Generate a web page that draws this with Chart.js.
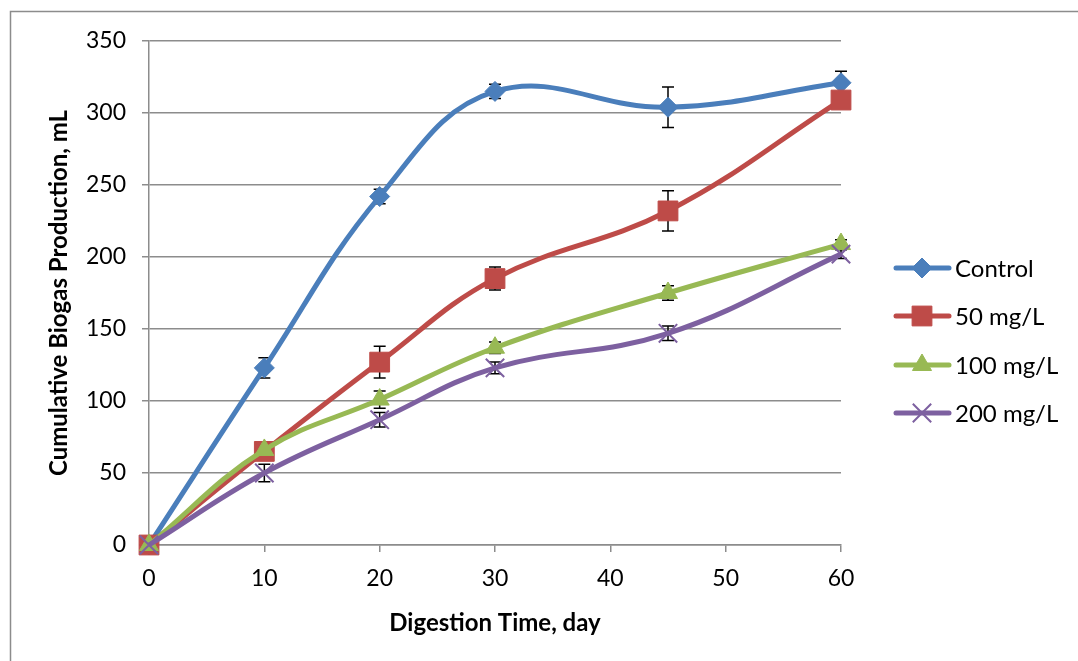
<!DOCTYPE html>
<html>
<head>
<meta charset="utf-8">
<title>Cumulative biogas production</title>
<script src="https://cdn.jsdelivr.net/npm/chart.js@4/dist/chart.umd.min.js"></script>
<style>
    body { margin: 0; background: #fff; }
    #myChart { display: block; }
</style>
</head>
<body>
<canvas id="myChart" width="1078" height="661"></canvas>
<script>
// digestion days and cumulative biogas (mL) per dose
let jours = [0, 10, 20, 30, 45, 60];

let series_noms = ["Control", "50 mg/L", "100 mg/L", "200 mg/L"];

let control = [0, 123, 242, 315, 304, 321];
let dose_50 = [0, 65, 127, 185, 232, 309];
let dose_100 = [0, 66, 101, 137, 175, 209];
let dose_200 = [0, 50, 87, 123, 147, 202];

// standard deviations (error bars)
let err_control = [0, 7, 5, 5, 14, 8];
let err_50 = [0, 3, 11, 8, 14, 3];
let err_100 = [0, 2, 6, 4, 5, 3];
let err_200 = [0, 6, 5, 4, 5, 3];

let y_ticks = [0, 50, 100, 150, 200, 250, 300, 350];

let couleurs = ['#4a7ebb', '#be4b48', '#98b954', '#7d60a0'];
let marqueurs = ['rectRot', 'rect', 'triangle', 'crossRot'];
let tailles = [10, 14, 11, 13];

let valeurs = [control, dose_50, dose_100, dose_200];
let erreurs = [err_control, err_50, err_100, err_200];

function points(y) {
    return jours.map((x, i) => {
        return {x: x, y: y[i]};
    });
}

// frame around the whole figure
const cadre = {
    id: 'cadre',
    beforeDraw(chart) {
        const ctx = chart.ctx;
        ctx.save();
        ctx.fillStyle = '#fff';
        ctx.fillRect(0, 0, chart.width, chart.height);
        ctx.strokeStyle = '#8c8c8c';
        ctx.lineWidth = 1.5;
        ctx.beginPath();
        ctx.moveTo(10.5, chart.height + 5);
        ctx.lineTo(10.5, 11.5);
        ctx.lineTo(chart.width + 5, 11.5);
        ctx.stroke();
        ctx.restore();
    }
};

const barres_erreur = {
    id: 'barres_erreur',
    beforeDatasetsDraw(chart) {
        const ctx = chart.ctx;
        const sx = chart.scales.x;
        const sy = chart.scales.y;
        ctx.save();
        ctx.strokeStyle = '#000';
        ctx.lineWidth = 1.5;
        erreurs.forEach((err, s) => {
            jours.forEach((j, i) => {
                if (!err[i]) return;
                let px = sx.getPixelForValue(j);
                let haut = sy.getPixelForValue(valeurs[s][i] + err[i]);
                let bas = sy.getPixelForValue(valeurs[s][i] - err[i]);
                ctx.beginPath();
                ctx.moveTo(px, haut);
                ctx.lineTo(px, bas);
                ctx.moveTo(px - 6, haut);
                ctx.lineTo(px + 6, haut);
                ctx.moveTo(px - 6, bas);
                ctx.lineTo(px + 6, bas);
                ctx.stroke();
            });
        });
        ctx.restore();
    }
};

// legend: line with marker, label on the right
const legende = {
    id: 'legende',
    afterDraw(chart) {
        const ctx = chart.ctx;
        let rangs = [268, 316, 365, 413];
        ctx.save();
        series_noms.forEach((nom, i) => {
            let y = rangs[i];
            ctx.strokeStyle = couleurs[i];
            ctx.lineWidth = 5;
            ctx.lineCap = 'round';
            ctx.beginPath();
            ctx.moveTo(896, y);
            ctx.lineTo(949, y);
            ctx.stroke();
            ctx.lineCap = 'butt';
            ctx.fillStyle = couleurs[i];
            ctx.strokeStyle = couleurs[i];
            ctx.lineWidth = i === 3 ? 2 : 1;
            Chart.helpers.drawPoint(ctx, {
                pointStyle: marqueurs[i],
                radius: tailles[i],
                rotation: 0,
                borderWidth: i === 3 ? 2 : 1
            }, 922, y);
            ctx.fillStyle = '#000';
            ctx.font = '24px Lato';
            ctx.textBaseline = 'middle';
            ctx.textAlign = 'left';
            ctx.fillText(nom, 955, y + 1);
        });
        ctx.restore();
    }
};

Chart.defaults.font.family = 'Lato';
Chart.defaults.font.size = 23;
Chart.defaults.color = '#000';

const ctx = document.getElementById('myChart');

let my_chart = new Chart(ctx, {
    type: 'line',
    data: {
        datasets: valeurs.map((v, i) => {
            return {
                label: series_noms[i],
                data: points(v),
                borderColor: couleurs[i],
                backgroundColor: couleurs[i],
                borderWidth: 5,
                tension: 0.4,
                clip: false,
                pointStyle: marqueurs[i],
                pointRadius: tailles[i],
                pointBorderWidth: i === 3 ? 2 : 1,
                pointBorderColor: couleurs[i],
                pointBackgroundColor: couleurs[i],
                order: 4 - i
            };
        })
    },
    options: {
        responsive: false,
        animation: false,
        events: [],
        layout: {
            padding: {left: 0, top: 41, right: 237, bottom: 0}
        },
        plugins: {
            legend: {display: false},
            tooltip: {enabled: false}
        },
        scales: {
            x: {
                type: 'linear',
                min: 0,
                max: 60,
                afterFit: (scale) => { scale.height = 116; },
                ticks: {stepSize: 10, padding: 13},
                grid: {
                    drawOnChartArea: false,
                    drawTicks: true,
                    tickLength: 7,
                    color: '#8c8c8c',
                    lineWidth: 1.5
                },
                border: {color: '#8c8c8c', width: 1.5},
                title: {
                    display: true,
                    text: 'Digestion Time, day',
                    font: {size: 24, weight: 'bold'},
                    padding: {top: 0, bottom: 23}
                }
            },
            y: {
                min: 0,
                max: 350,
                afterFit: (scale) => { scale.width = 149; },
                afterBuildTicks: (scale) => {
                    scale.ticks = y_ticks.map((v) => ({value: v}));
                },
                ticks: {padding: 16},
                grid: {
                    drawTicks: true,
                    tickLength: 7,
                    color: '#8c8c8c',
                    lineWidth: 1.5
                },
                border: {color: '#8c8c8c', width: 1.5},
                title: {
                    display: true,
                    text: 'Cumulative Biogas Production, mL',
                    font: {size: 24, weight: 'bold'},
                    padding: {top: 45, bottom: 0}
                }
            }
        }
    },
    plugins: [cadre, barres_erreur, legende]
});
</script>
</body>
</html>
